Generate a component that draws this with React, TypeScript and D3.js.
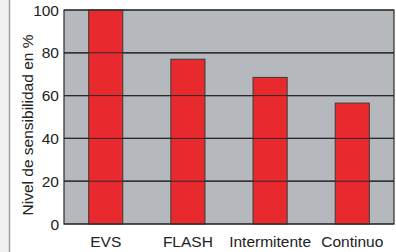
import React from 'react';
import * as d3 from 'd3';

const categories = ['EVS', 'FLASH', 'Intermitente', 'Continuo'];
const values = [100, 77, 68.5, 56.5];
const yTicks = [0, 20, 40, 60, 80, 100];
const yTitle = 'Nivel de sensibilidad en %';

const W = 396;
const H = 252;
const margin = { top: 10, right: 2, bottom: 28, left: 64 };

const App: React.FC = () => {
  const x = d3.scaleBand<string>()
    .domain(categories)
    .range([margin.left, W - margin.right])
    .paddingInner(0.585)
    .paddingOuter(0.3);

  const y = d3.scaleLinear()
    .domain([0, 100])
    .range([H - margin.bottom, margin.top]);

  const font = '"Liberation Sans", Arial, sans-serif';

  return (
    <svg width={W} height={H} style={{ position: 'absolute', left: 0, top: 0, background: '#fff' }}>
      <rect x={0} y={0} width={9} height={H} fill="#f1f1f1" />
      <line x1={9.5} x2={9.5} y1={0} y2={H} stroke="#a0a0a0" strokeWidth={1.5} />
      <rect x={margin.left} y={margin.top} width={W - margin.right - margin.left}
        height={y(0) - margin.top} fill="#b5b8bc" />
      {yTicks.map(t => (
        <g key={t}>
          <line x1={margin.left} x2={W - margin.right} y1={y(t)} y2={y(t)} stroke="#2a2a2a" strokeWidth={1.2} />
          <text x={59} y={y(t)} dy="0.36em" textAnchor="end" fontFamily={font} fontSize={15.5} fill="#222">{t}</text>
        </g>
      ))}
      {categories.map((c, i) => (
        <rect key={c} x={x(c)} y={y(values[i])} width={x.bandwidth()} height={y(0) - y(values[i])}
          fill="#e8292d" stroke="#3a3a3a" strokeWidth={1} />
      ))}
      {yTicks.slice(1, -1).map(t => (
        <line key={'g' + t} x1={margin.left} x2={W - margin.right} y1={y(t)} y2={y(t)} stroke="#2a2a2a" strokeWidth={1} />
      ))}
      <rect x={margin.left} y={margin.top} width={W - margin.right - margin.left}
        height={y(0) - margin.top} fill="none" stroke="#2a2a2a" strokeWidth={1.2} />
      {categories.map(c => (
        <text key={'l' + c} x={(x(c) ?? 0) + x.bandwidth() / 2} y={247} textAnchor="middle"
          fontFamily={font} fontSize={15.5} fill="#222">{c}</text>
      ))}
      <text transform={`translate(33, 125) rotate(-90)`} textAnchor="middle"
        fontFamily={font} fontSize={15.5} fill="#222">{yTitle}</text>
    </svg>
  );
};

export default App;
